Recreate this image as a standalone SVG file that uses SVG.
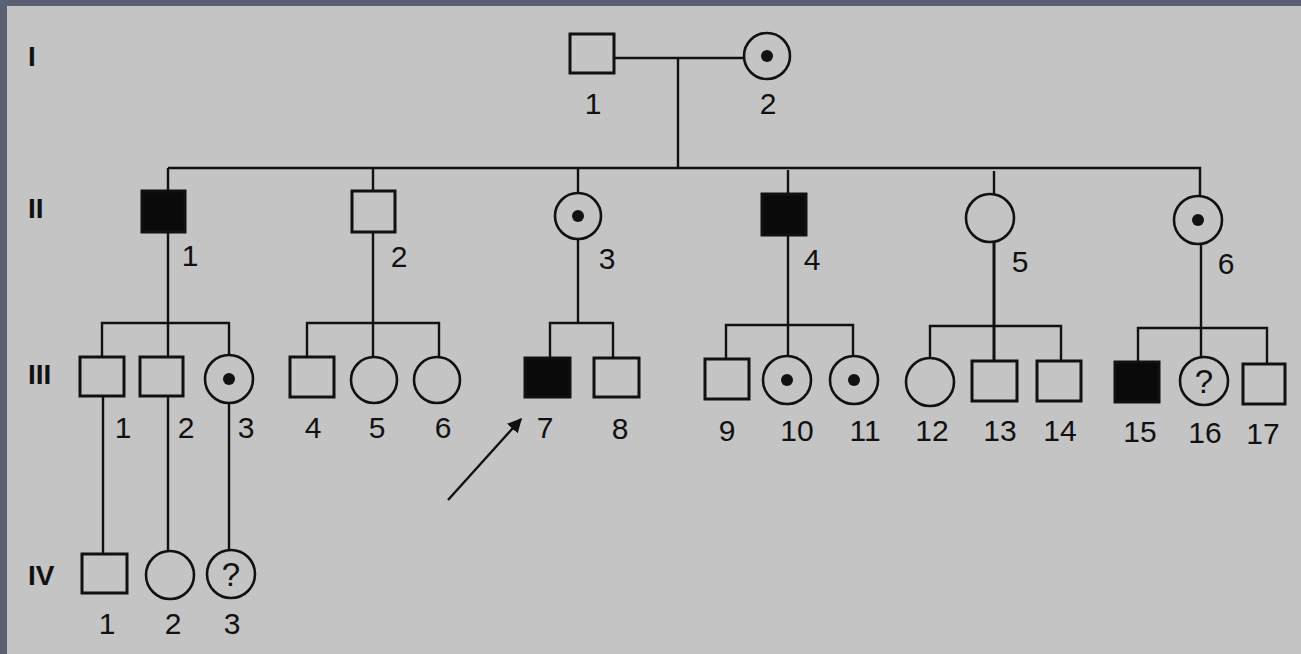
<svg xmlns="http://www.w3.org/2000/svg" width="1301" height="654" viewBox="0 0 1301 654">
<style>
.sq{fill:none;stroke:#111;stroke-width:3}
.af{fill:#0a0a0a;stroke:#111;stroke-width:3}
.ci{fill:none;stroke:#111;stroke-width:2.6}
.dot{fill:#111}
.ln{fill:none;stroke:#111;stroke-width:2.4}
.lb{font-family:"Liberation Sans",Arial,sans-serif;font-size:30px;fill:#111;text-anchor:middle}
.gl{font-family:"Liberation Sans",Arial,sans-serif;font-size:28px;font-weight:bold;fill:#111}
.q{font-family:"Liberation Sans",Arial,sans-serif;font-size:33px;fill:#111;text-anchor:middle}
</style>
<defs>
<marker id="ah" viewBox="0 0 10 10" refX="9" refY="5" markerWidth="6" markerHeight="6" orient="auto" markerUnits="strokeWidth">
<path d="M0,0 L10,5 L0,10 z" fill="#111"/>
</marker>
</defs>
<rect x="0" y="0" width="1301" height="654" fill="#5b6072"/>
<rect x="7" y="6" width="1294" height="648" fill="#c4c4c4"/>

<g id="generations">
<text class="gl" x="28" y="66">I</text>
<text class="gl" x="28" y="218">II</text>
<text class="gl" x="28" y="384">III</text>
<text class="gl" x="28" y="585">IV</text>
</g>

<g id="connectors">
<path class="ln" d="M614,58 H743"/>
<path class="ln" d="M678,58 V169"/>
<path class="ln" d="M168,168 H1200 V197"/>
<path class="ln" d="M168,168 V190"/>
<path class="ln" d="M373,169 V191"/>
<path class="ln" d="M578,169 V193"/>
<path class="ln" d="M788,170 V193"/>
<path class="ln" d="M994,171 V195"/>
<path class="ln" d="M168,232 V356"/>
<path class="ln" d="M102,356 V323 H229 V356"/>
<path class="ln" d="M373,232 V357"/>
<path class="ln" d="M307,357 V323 H439 V357"/>
<path class="ln" d="M578,239 V323"/>
<path class="ln" d="M550,357 V323 H613 V357"/>
<path class="ln" d="M788,235 V356"/>
<path class="ln" d="M726,359 V325 H853 V356"/>
<path class="ln" d="M994,242 V361" style="stroke-width:3"/>
<path class="ln" d="M930,358 V326 H1061 V361"/>
<path class="ln" d="M1201,244 V357"/>
<path class="ln" d="M1138,361 V328 H1267 V364"/>
<path class="ln" d="M103,396 V553"/>
<path class="ln" d="M168,396 V551"/>
<path class="ln" d="M229,403 V551"/>
<path class="ln" d="M448,500 L521,419" marker-end="url(#ah)"/>
</g>

<g id="I-1"><rect class="sq" x="570" y="34" width="44" height="39"/><text class="lb" x="593" y="114">1</text></g>
<g id="I-2"><circle class="ci" cx="767" cy="56" r="23"/><circle class="dot" cx="767" cy="56" r="6"/><text class="lb" x="768" y="114">2</text></g>

<g id="II-1"><rect class="af" x="142" y="191" width="43" height="41"/><text class="lb" x="190" y="266">1</text></g>
<g id="II-2"><rect class="sq" x="352" y="191" width="43" height="41"/><text class="lb" x="399" y="267">2</text></g>
<g id="II-3"><circle class="ci" cx="578" cy="216" r="23"/><circle class="dot" cx="578" cy="216" r="6"/><text class="lb" x="607" y="269">3</text></g>
<g id="II-4"><rect class="af" x="762" y="194" width="44" height="41"/><text class="lb" x="812" y="270">4</text></g>
<g id="II-5"><circle class="ci" cx="990" cy="218" r="24"/><text class="lb" x="1020" y="272">5</text></g>
<g id="II-6"><circle class="ci" cx="1198" cy="220" r="24"/><circle class="dot" cx="1198" cy="220" r="6"/><text class="lb" x="1226" y="274">6</text></g>

<g id="III-1"><rect class="sq" x="80" y="357" width="44" height="39"/><text class="lb" x="123" y="438">1</text></g>
<g id="III-2"><rect class="sq" x="140" y="357" width="43" height="39"/><text class="lb" x="186" y="438">2</text></g>
<g id="III-3"><circle class="ci" cx="229" cy="379" r="24"/><circle class="dot" cx="229" cy="379" r="6"/><text class="lb" x="246" y="438">3</text></g>
<g id="III-4"><rect class="sq" x="290" y="357" width="44" height="40"/><text class="lb" x="313" y="438">4</text></g>
<g id="III-5"><circle class="ci" cx="374" cy="380" r="23"/><text class="lb" x="377" y="438">5</text></g>
<g id="III-6"><circle class="ci" cx="437" cy="380" r="23"/><text class="lb" x="443" y="438">6</text></g>
<g id="III-7"><rect class="af" x="525" y="358" width="45" height="39"/><text class="lb" x="545" y="438">7</text></g>
<g id="III-8"><rect class="sq" x="594" y="358" width="45" height="39"/><text class="lb" x="620" y="439">8</text></g>
<g id="III-9"><rect class="sq" x="705" y="359" width="44" height="40"/><text class="lb" x="727" y="441">9</text></g>
<g id="III-10"><circle class="ci" cx="787" cy="380" r="24"/><circle class="dot" cx="787" cy="380" r="6"/><text class="lb" x="797" y="441">10</text></g>
<g id="III-11"><circle class="ci" cx="854" cy="380" r="24"/><circle class="dot" cx="854" cy="380" r="6"/><text class="lb" x="865" y="441">11</text></g>
<g id="III-12"><circle class="ci" cx="930" cy="382" r="24"/><text class="lb" x="932" y="441">12</text></g>
<g id="III-13"><rect class="sq" x="972" y="361" width="45" height="40"/><text class="lb" x="1000" y="441">13</text></g>
<g id="III-14"><rect class="sq" x="1037" y="361" width="44" height="40"/><text class="lb" x="1060" y="441">14</text></g>
<g id="III-15"><rect class="af" x="1115" y="362" width="44" height="40"/><text class="lb" x="1140" y="442">15</text></g>
<g id="III-16"><circle class="ci" cx="1204" cy="381" r="24"/><text class="q" x="1204" y="393">?</text><text class="lb" x="1205" y="443">16</text></g>
<g id="III-17"><rect class="sq" x="1243" y="364" width="42" height="40"/><text class="lb" x="1263" y="444">17</text></g>

<g id="IV-1"><rect class="sq" x="82" y="554" width="45" height="39"/><text class="lb" x="107" y="634">1</text></g>
<g id="IV-2"><circle class="ci" cx="170" cy="575" r="24"/><text class="lb" x="173" y="634">2</text></g>
<g id="IV-3"><circle class="ci" cx="231" cy="574" r="24"/><text class="q" x="231" y="586">?</text><text class="lb" x="232" y="634">3</text></g>
</svg>
